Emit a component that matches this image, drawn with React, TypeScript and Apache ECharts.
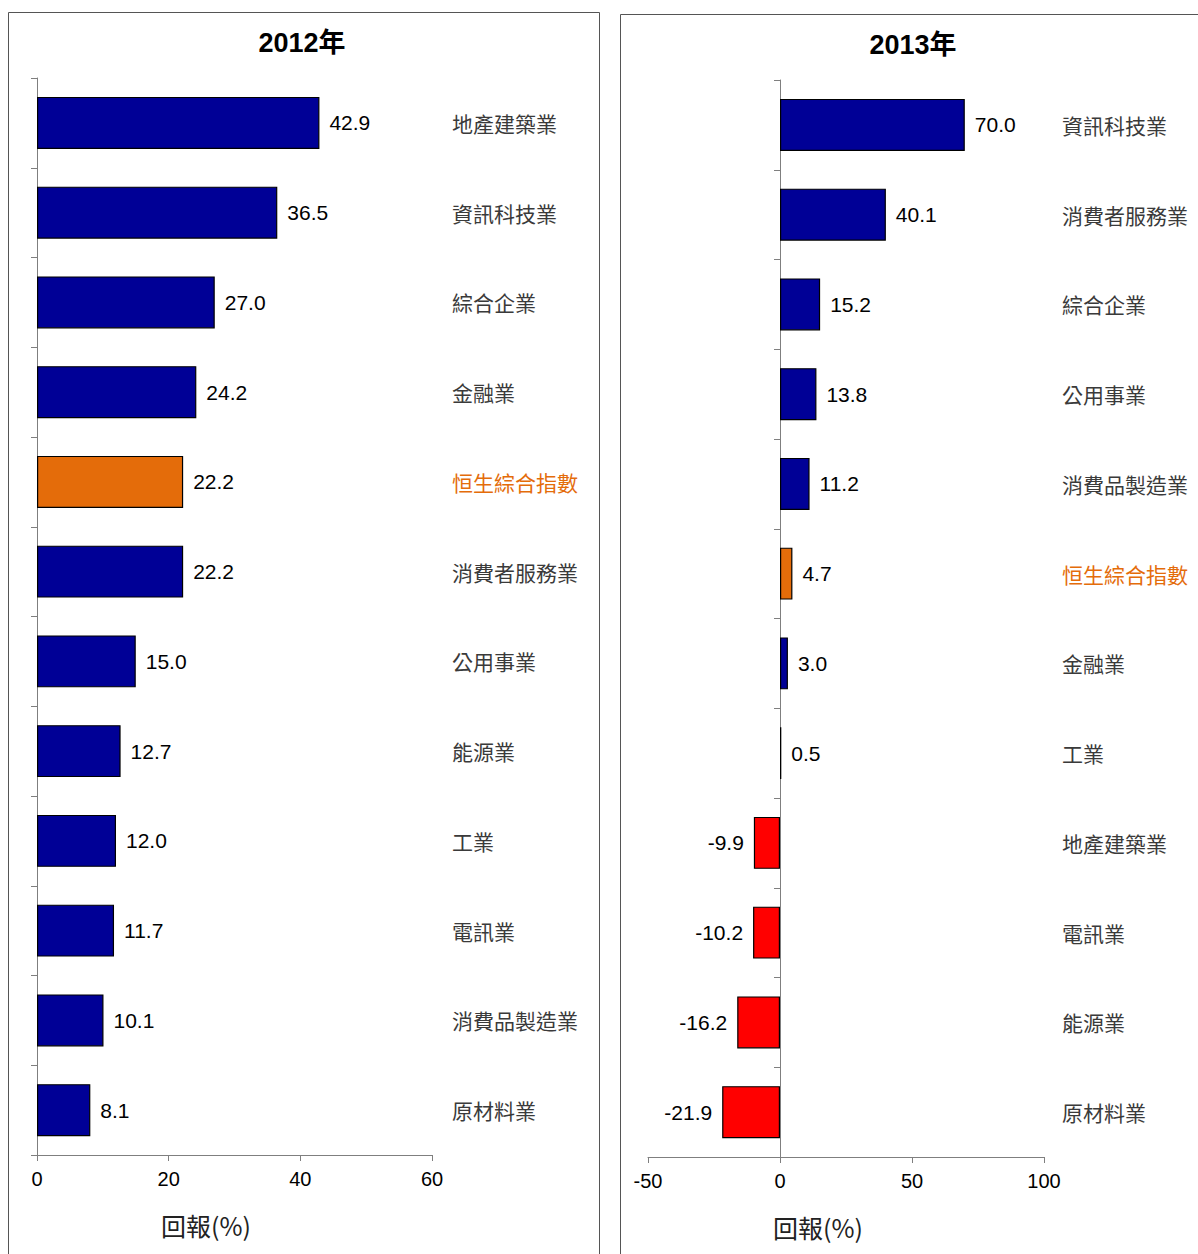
import React, { useEffect, useRef } from "react";
import * as echarts from "echarts";

const cats2012 = ["地產建築業", "資訊科技業", "綜合企業", "金融業", "恒生綜合指數", "消費者服務業", "公用事業", "能源業", "工業", "電訊業", "消費品製造業", "原材料業"];
const vals2012 = [42.9, 36.5, 27.0, 24.2, 22.2, 22.2, 15.0, 12.7, 12.0, 11.7, 10.1, 8.1];
const cats2013 = ["資訊科技業", "消費者服務業", "綜合企業", "公用事業", "消費品製造業", "恒生綜合指數", "金融業", "工業", "地產建築業", "電訊業", "能源業", "原材料業"];
const vals2013 = [70.0, 40.1, 15.2, 13.8, 11.2, 4.7, 3.0, 0.5, -9.9, -10.2, -16.2, -21.9];
const titles = ["2012年", "2013年"];
const axisName = "回報(%)";
const indexName = "恒生綜合指數";

const NAVY = "#000096";
const ORANGE = "#E46C0A";
const RED = "#FF0000";
const CJK = "'Noto Sans CJK TC', 'Liberation Sans', sans-serif";
const NUM = "'Liberation Sans', Arial, 'Noto Sans CJK TC', sans-serif";

function barData(cats: string[], vals: number[]) {
  return vals.map((v, i) => ({
    value: v,
    itemStyle: { color: cats[i] === indexName ? ORANGE : v < 0 ? RED : NAVY },
    label: { position: v < 0 ? "left" : "right" },
  }));
}

export default function App() {
  const ref = useRef<HTMLDivElement>(null);
  useEffect(() => {
    if (!ref.current) return;
    const chart = echarts.init(ref.current, null, { renderer: "svg" });
    const axisLineStyle = { color: "#7f7f7f", width: 1 };
    const valueAxis = (gi: number, min: number, max: number, interval: number) => ({
      type: "value",
      gridIndex: gi,
      min,
      max,
      interval,
      splitLine: { show: false },
      axisLine: { show: true, onZero: false, lineStyle: axisLineStyle },
      axisTick: { show: true, length: 6, lineStyle: axisLineStyle },
      axisLabel: { color: "#000", fontSize: 20, fontFamily: NUM, margin: 14 },
    });
    const catAxis = (gi: number, cats: string[]) => ({
      type: "category",
      gridIndex: gi,
      data: cats,
      inverse: true,
      axisLine: { show: true, onZero: true, lineStyle: axisLineStyle },
      axisTick: { show: true, length: 6, lineStyle: axisLineStyle },
      axisLabel: { show: false },
    });
    const labelAxis = (gi: number, cats: string[], margin: number) => ({
      type: "category",
      gridIndex: gi,
      data: cats,
      inverse: true,
      position: "right",
      axisLine: { show: false },
      axisTick: { show: false },
      axisLabel: {
        show: true,
        margin,
        align: "left",
        fontSize: 21,
        fontFamily: CJK,
        color: (v: string) => (v === indexName ? ORANGE : "#3a3a3a"),
      },
    });
    const barSeries = (idx: number, cats: string[], vals: number[]) => ({
      type: "bar",
      xAxisIndex: idx,
      yAxisIndex: idx * 2,
      data: barData(cats, vals),
      barWidth: 52,
      itemStyle: { borderColor: "#000", borderWidth: 1.2 },
      label: {
        show: true,
        distance: 10,
        color: "#000",
        fontSize: 21,
        fontFamily: NUM,
        formatter: (p: any) => Number(p.value).toFixed(1),
      },
    });
    chart.setOption({
      animation: false,
      grid: [
        { left: 37, right: 1198 - 432, top: 78, bottom: 1254 - 1155 },
        { left: 648, right: 1198 - 1044, top: 80, bottom: 1254 - 1157 },
      ],
      xAxis: [valueAxis(0, 0, 60, 20), valueAxis(1, -50, 100, 50)],
      yAxis: [catAxis(0, cats2012), labelAxis(0, cats2012, 20), catAxis(1, cats2013), labelAxis(1, cats2013, 18)],
      series: [barSeries(0, cats2012, vals2012), barSeries(1, cats2013, vals2013)],
      graphic: [
        { type: "rect", shape: { x: 8.5, y: 12.5, width: 591, height: 1260 }, style: { fill: "none", stroke: "#555", lineWidth: 1 }, z: 0, silent: true },
        { type: "rect", shape: { x: 620.5, y: 14.5, width: 600, height: 1260 }, style: { fill: "none", stroke: "#555", lineWidth: 1 }, z: 0, silent: true },
        { type: "text", x: 302, y: 43, style: { text: titles[0], fontSize: 27, fontWeight: "bold", fontFamily: NUM, fill: "#000", align: "center", verticalAlign: "middle" } },
        { type: "text", x: 913, y: 45, style: { text: titles[1], fontSize: 27, fontWeight: "bold", fontFamily: NUM, fill: "#000", align: "center", verticalAlign: "middle" } },
        { type: "text", x: 206, y: 1225, style: { text: axisName, fontSize: 25, fontFamily: CJK, fill: "#222", align: "center", verticalAlign: "middle" } },
        { type: "text", x: 818, y: 1227, style: { text: axisName, fontSize: 25, fontFamily: CJK, fill: "#222", align: "center", verticalAlign: "middle" } },
      ],
    });
    return () => chart.dispose();
  }, []);
  return <div ref={ref} style={{ position: "absolute", left: 0, top: 0, width: 1198, height: 1254 }} />;
}
